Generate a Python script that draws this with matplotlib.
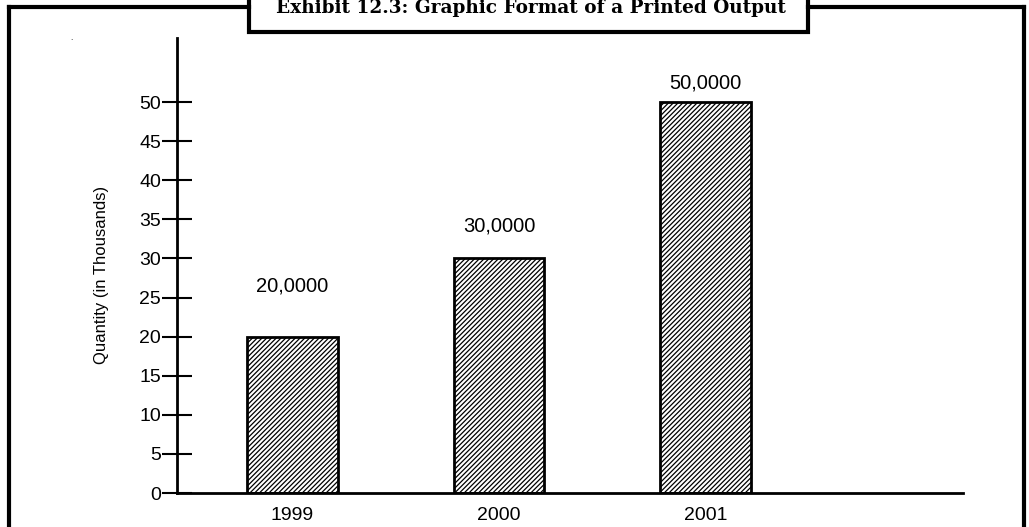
import matplotlib
matplotlib.use('Agg')
import matplotlib.pyplot as plt
from matplotlib.lines import Line2D
from matplotlib.patches import Rectangle

years = ['1999', '2000', '2001']
quantity = [20, 30, 50]
bar_labels = ['20,0000', '30,0000', '50,0000']
label_offsets = [6.5, 4.1, 2.4]   # gap above the bar, in data units
yticks = list(range(0, 55, 5))
title = 'Exhibit 12.3: Graphic Format of a Printed Output'

plt.rcParams['font.family'] = ['Liberation Sans', 'DejaVu Sans']
plt.rcParams['hatch.linewidth'] = 0.9

fig = plt.figure(figsize=(10.29, 5.27), dpi=100)
W, H = 1029, 527


def fx(px):
    return px / W


def fy(py):
    return 1 - py / H


ax = fig.add_axes([fx(177), fy(493), fx(963) - fx(177), fy(38) - fy(493)])

pos = list(range(len(years)))
ax.bar(pos, quantity, width=0.44, color='white', edgecolor='black',
       linewidth=2, hatch='///////')
for x, v, lab, off in zip(pos, quantity, bar_labels, label_offsets):
    ax.text(x, v + off, lab, ha='center', va='center', fontsize=14.5)

ax.set_xlim(-0.559, 3.247)
ax.set_ylim(0, 58.2)
ax.set_yticks(yticks)
ax.set_yticklabels([str(t) for t in yticks], fontsize=14)
ax.set_xticks(pos)
ax.set_xticklabels(years, fontsize=14)
ax.tick_params(axis='y', direction='inout', length=21, width=1.5, pad=1)
ax.tick_params(axis='x', length=0, pad=10)
for s in ['top', 'right']:
    ax.spines[s].set_visible(False)
ax.spines['left'].set_linewidth(2)
ax.spines['bottom'].set_linewidth(2)
ax.set_ylabel('Quantity (in Thousands)', fontsize=12)
ax.yaxis.set_label_coords(-0.086, 0.479)

# outer frame and title box
frame = dict(color='black', linewidth=3, transform=fig.transFigure)
fig.add_artist(Line2D([fx(9), fx(9)], [fy(7), 0], **frame))
fig.add_artist(Line2D([fx(1024), fx(1024)], [fy(7), 0], **frame))
fig.add_artist(Line2D([fx(9), fx(249)], [fy(7), fy(7)], **frame))
fig.add_artist(Line2D([fx(808), fx(1024)], [fy(7), fy(7)], **frame))
fig.add_artist(Rectangle((fx(249), fy(32)), fx(808) - fx(249), fy(0) - fy(32) + 0.01,
                         facecolor='white', edgecolor='black', linewidth=3,
                         transform=fig.transFigure))
fig.text(fx(531), fy(13), title, ha='center', va='baseline', fontsize=13.3,
         fontweight='bold', family=['DejaVu Serif'])
fig.text(fx(71), fy(39), '.', ha='center', va='center', fontsize=6)

fig.savefig('out.png', dpi=100)
